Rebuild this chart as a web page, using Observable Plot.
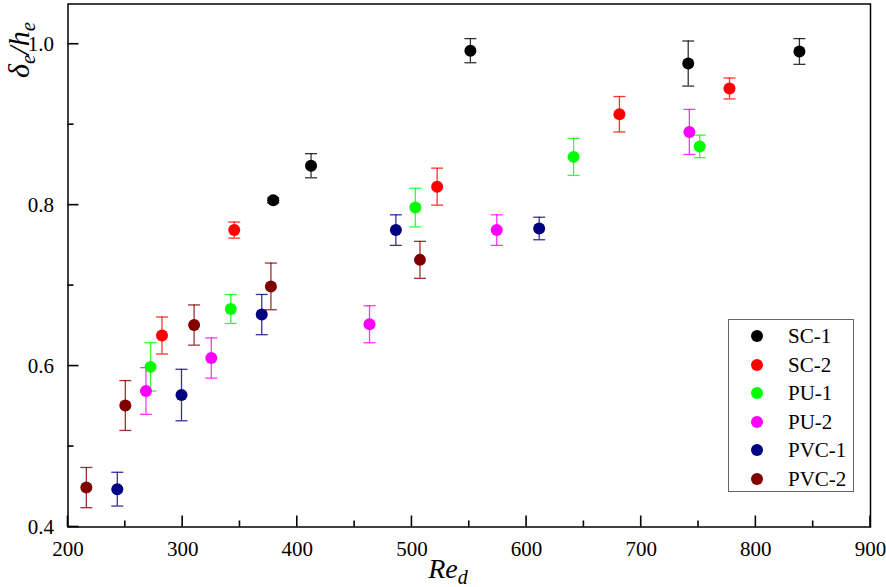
<!DOCTYPE html>
<html><head>
<meta charset="utf-8">
<script src="https://cdn.jsdelivr.net/npm/d3@7"></script>
<script src="https://cdn.jsdelivr.net/npm/@observablehq/plot@0.6"></script>
<style>
body{margin:0;background:#fff;}
#wrap{position:relative;width:886px;height:587px;overflow:hidden;}
#legend{position:absolute;left:728px;top:319px;width:126px;height:173px;border:1px solid #666;box-sizing:border-box;background:#fff;font-family:"Liberation Serif",serif;font-size:21px;}
.row{position:absolute;left:0;height:28px;line-height:28px;}
.row .dot{position:absolute;left:22px;top:8px;width:12px;height:12px;border-radius:50%;}
.row .lab{position:absolute;left:59px;top:0;white-space:nowrap;}
svg text{font-family:"Liberation Serif",serif;}
</style>
</head><body><div id="wrap"></div>
<script>
const series = ["SC-1", "SC-2", "PU-1", "PU-2", "PVC-1", "PVC-2"];
const colors = ["#000000", "#ff0000", "#00ff00", "#ff00ff", "#000080", "#800000"];

const sc1Re  = [379, 412, 551, 741, 838];
const sc1Val = [0.806, 0.849, 0.992, 0.976, 0.991];
const sc1Err = [0.003, 0.015, 0.015, 0.028, 0.016];

const sc2Re  = [282, 345, 522, 681, 777];
const sc2Val = [0.638, 0.769, 0.823, 0.913, 0.945];
const sc2Err = [0.023, 0.010, 0.023, 0.022, 0.013];

const pu1Re  = [272, 342, 503, 641, 751];
const pu1Val = [0.599, 0.671, 0.797, 0.860, 0.873];
const pu1Err = [0.030, 0.018, 0.024, 0.023, 0.014];

const pu2Re  = [268, 325, 463, 574, 742];
const pu2Val = [0.569, 0.610, 0.652, 0.769, 0.891];
const pu2Err = [0.029, 0.025, 0.023, 0.019, 0.028];

const pvc1Re  = [243, 299, 369, 486, 611];
const pvc1Val = [0.447, 0.564, 0.664, 0.769, 0.771];
const pvc1Err = [0.021, 0.032, 0.025, 0.019, 0.014];

const pvc2Re  = [216, 250, 310, 377, 507];
const pvc2Val = [0.449, 0.551, 0.651, 0.699, 0.732];
const pvc2Err = [0.025, 0.031, 0.025, 0.029, 0.023];

const xTicks = [200, 300, 400, 500, 600, 700, 800, 900];
const xMinor = [250, 350, 450, 550, 650, 750, 850];
const yTicks = [0.4, 0.6, 0.8, 1.0];
const yMinor = [0.5, 0.7, 0.9];

const groups = [
  [sc1Re, sc1Val, sc1Err], [sc2Re, sc2Val, sc2Err], [pu1Re, pu1Val, pu1Err],
  [pu2Re, pu2Val, pu2Err], [pvc1Re, pvc1Val, pvc1Err], [pvc2Re, pvc2Val, pvc2Err]
];
const rows = [];
groups.forEach(([re, v, e], i) => {
  re.forEach((r, j) => rows.push({s: series[i], re: r, v: v[j], e: e[j]}));
});

const W = 886, H = 587, mL = 67.5, mR = 16, mT = 3.5, mB = 60.5;
const cap = {draw(ctx) { ctx.moveTo(-6, 0); ctx.lineTo(6, 0); }};
const F = "'Liberation Serif', serif";

const plot = Plot.plot({
  width: W, height: H,
  marginLeft: mL, marginRight: mR, marginTop: mT, marginBottom: mB,
  style: {fontFamily: F, fontSize: "21px", color: "#000", background: "#fff"},
  x: {domain: [200, 900]},
  y: {domain: [0.4, 1.05]},
  color: {domain: series, range: colors},
  marks: [
    Plot.axisX({ticks: xTicks, tickSize: 0, tickPadding: 14, tickFormat: d => String(d), label: null, fontSize: 21, fontFamily: F}),
    Plot.axisY({ticks: yTicks, tickSize: 0, tickPadding: 14, tickFormat: d => d.toFixed(1), label: null, fontSize: 21, fontFamily: F}),
    Plot.ruleX(rows, {x: "re", y1: d => d.v - d.e, y2: d => d.v + d.e, stroke: "s", strokeWidth: 1.3, strokeOpacity: 0.8}),
    Plot.dot(rows, {x: "re", y: d => d.v + d.e, symbol: cap, stroke: "s", fill: "none", strokeWidth: 1.3, strokeOpacity: 0.8}),
    Plot.dot(rows, {x: "re", y: d => d.v - d.e, symbol: cap, stroke: "s", fill: "none", strokeWidth: 1.3, strokeOpacity: 0.8}),
    Plot.dot(rows, {x: "re", y: "v", r: 6, fill: "s", stroke: "none"}),
    Plot.frame({stroke: "#000", strokeWidth: 1.5})
  ]
});

const wrap = document.getElementById("wrap");
wrap.appendChild(plot);

// inward axis ticks placed through the chart's own scales
const sx = plot.scale("x"), sy = plot.scale("y");
const svg = d3.select(plot);
const tg = svg.append("g").attr("stroke", "#000").attr("stroke-width", 1.6);
const yb = H - mB, xl0 = mL;
xTicks.forEach(v => tg.append("line").attr("x1", sx.apply(v)).attr("x2", sx.apply(v)).attr("y1", yb).attr("y2", yb - 11));
xMinor.forEach(v => tg.append("line").attr("x1", sx.apply(v)).attr("x2", sx.apply(v)).attr("y1", yb).attr("y2", yb - 6));
yTicks.forEach(v => tg.append("line").attr("y1", sy.apply(v)).attr("y2", sy.apply(v)).attr("x1", xl0).attr("x2", xl0 + 11));
yMinor.forEach(v => tg.append("line").attr("y1", sy.apply(v)).attr("y2", sy.apply(v)).attr("x1", xl0).attr("x2", xl0 + 6));

const xl = svg.append("text")
  .attr("x", 448).attr("y", 578)
  .attr("font-family", F).attr("font-style", "italic").attr("font-size", 28);
xl.append("tspan").text("Re");
xl.append("tspan").attr("dy", 6).attr("font-size", 20).text("d");

const yl = svg.append("text")
  .attr("transform", "translate(29,50) rotate(-90)")
  .attr("font-family", F).attr("font-style", "italic").attr("font-size", 30);
yl.append("tspan").text("δ");
yl.append("tspan").attr("dy", 6).attr("font-size", 21).text("e");
yl.append("tspan").attr("dy", -6).text("/h");
yl.append("tspan").attr("dy", 6).attr("font-size", 21).text("e");

const legend = document.createElement("div");
legend.id = "legend";
series.forEach((s, i) => {
  const r = document.createElement("div");
  r.className = "row";
  r.style.top = (2 + i * 28.5) + "px";
  r.innerHTML = `<span class="dot" style="background:${colors[i]}"></span><span class="lab">${s}</span>`;
  legend.appendChild(r);
});
wrap.appendChild(legend);
</script>
</body></html>
